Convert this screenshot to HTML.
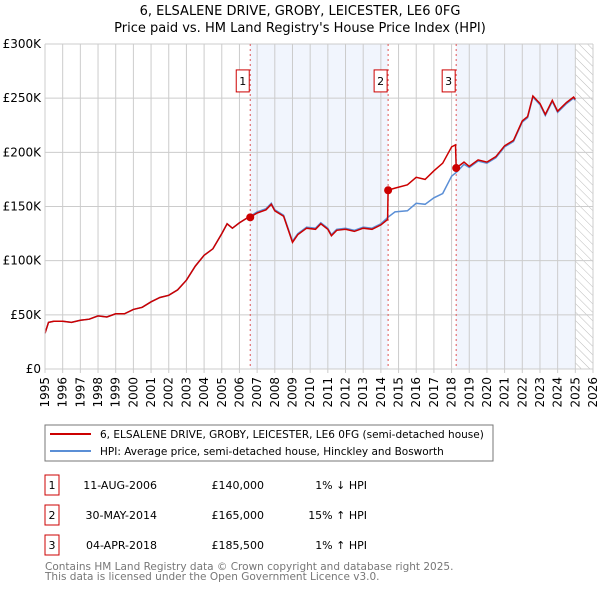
<!DOCTYPE html>
<html><head><meta charset="utf-8"><style>
body{margin:0;background:#fff;font-family:"Liberation Sans","DejaVu Sans",sans-serif;}
svg text{font-family:"DejaVu Sans","Liberation Sans",sans-serif;}
</style></head><body>
<svg id="c" width="600" height="590" xmlns="http://www.w3.org/2000/svg">
<defs><pattern id="hatch" width="6" height="6" patternUnits="userSpaceOnUse" patternTransform="rotate(-45)"><line x1="0" y1="0" x2="0" y2="6" stroke="#bbb" stroke-width="1"/></pattern></defs>
<text x="300" y="15" text-anchor="middle" font-size="13">6, ELSALENE DRIVE, GROBY, LEICESTER, LE6 0FG</text>
<text x="300" y="32" text-anchor="middle" font-size="13">Price paid vs. HM Land Registry's House Price Index (HPI)</text>
<g id="plot"></g>
<rect x="45" y="425" width="448" height="36" fill="#fff" stroke="#777"/>
<line x1="50" y1="434" x2="91" y2="434" stroke="#cc0000" stroke-width="2"/>
<text x="100" y="438" font-size="10.5">6, ELSALENE DRIVE, GROBY, LEICESTER, LE6 0FG (semi-detached house)</text>
<line x1="50" y1="451" x2="91" y2="451" stroke="#5b8fd6" stroke-width="2"/>
<text x="100" y="455" font-size="10.5">HPI: Average price, semi-detached house, Hinckley and Bosworth</text>
<g id="table" font-size="11"></g>
<text x="45" y="570" font-size="10.5" fill="#777">Contains HM Land Registry data © Crown copyright and database right 2025.</text>
<text x="45" y="580" font-size="10.5" fill="#777">This data is licensed under the Open Government Licence v3.0.</text>
</svg>
<script>
const hpiYears=[1995.0,1995.2,1995.5,1996,1996.5,1997,1997.5,1998,1998.5,1999,1999.5,2000,2000.5,2001,2001.5,2002,2002.5,2003,2003.5,2004,2004.5,2005,2005.3,2005.6,2006,2006.5,2006.6,2007,2007.5,2007.8,2008,2008.5,2009,2009.3,2009.8,2010.3,2010.6,2011,2011.2,2011.5,2012,2012.5,2013,2013.5,2014,2014.4,2014.8,2015.5,2016,2016.5,2017,2017.5,2018,2018.3,2018.7,2019,2019.5,2020,2020.5,2021,2021.5,2022,2022.3,2022.6,2023,2023.3,2023.7,2024,2024.5,2024.9,2025];
const hpiValues=[33,43,44,44,43,45,46,49,48,51,51,55,57,62,66,68,73,82,95,105,111,125,134,130,135,140,141,145,148,153,147,142,118,125,131,130,135,130,124,129,130,128,131,130,134,140,145,146,153,152,158,162,178,182,189,186,192,190,195,205,210,228,232,251,244,234,247,237,245,250,248];
const redYears=[1995.0,1995.2,1995.5,1996,1996.5,1997,1997.5,1998,1998.5,1999,1999.5,2000,2000.5,2001,2001.5,2002,2002.5,2003,2003.5,2004,2004.5,2005,2005.3,2005.6,2006,2006.5,2006.6,2007,2007.5,2007.8,2008,2008.5,2009,2009.3,2009.8,2010.3,2010.6,2011,2011.2,2011.5,2012,2012.5,2013,2013.5,2014,2014.38,2014.41,2014.8,2015.5,2016,2016.5,2017,2017.5,2018,2018.22,2018.26,2018.7,2019,2019.5,2020,2020.5,2021,2021.5,2022,2022.3,2022.6,2023,2023.3,2023.7,2024,2024.5,2024.9,2025];
const redValues=[33,43,44,44,43,45,46,49,48,51,51,55,57,62,66,68,73,82,95,105,111,125,134,130,135,140,140,144,147,152,146,141,117,124,130,129,134,129,123,128,129,127,130,129,133,138,165,167,170,177,175,183,190,205,207,185.5,191,187,193,191,196,206,211,229,233,252,245,235,248,238,246,251,249];
const saleYears=[2006.61,2014.41,2018.26];
const saleValues=[140,165,185.5];
const saleLabels=["1","2","3"];
const saleDates=["11-AUG-2006","30-MAY-2014","04-APR-2018"];
const salePrices=["£140,000","£165,000","£185,500"];
const saleDiffs=["1% ↓ HPI","15% ↑ HPI","1% ↑ HPI"];
const yTicks=[0,50,100,150,200,250,300];
const yTickLabels=["£0","£50K","£100K","£150K","£200K","£250K","£300K"];
const xTicks=[1995,1996,1997,1998,1999,2000,2001,2002,2003,2004,2005,2006,2007,2008,2009,2010,2011,2012,2013,2014,2015,2016,2017,2018,2019,2020,2021,2022,2023,2024,2025,2026];
const dataEnd=2025.0;

const NS="http://www.w3.org/2000/svg";
const X0=45,X1=593,Y0=369,Y1=44;
const xs=y=>X0+(y-1995)/(2026-1995)*(X1-X0);
const ys=v=>Y0-(v/300)*(Y0-Y1);
const g=document.getElementById('plot');
function mk(t,a,p){const e=document.createElementNS(NS,t);for(const k in a)e.setAttribute(k,a[k]);(p||g).appendChild(e);return e;}
let s1=mk('rect',{x:xs(saleYears[0]),y:Y1,width:xs(saleYears[1])-xs(saleYears[0]),height:Y0-Y1,fill:'#eef3fc',opacity:0.8});


let s2=mk('rect',{x:xs(saleYears[2]),y:Y1,width:xs(dataEnd)-xs(saleYears[2]),height:Y0-Y1,fill:'#eef3fc',opacity:0.8});


let hz=mk('rect',{x:xs(dataEnd),y:Y1,width:X1-xs(dataEnd),height:Y0-Y1,fill:'url(#hatch)'});


xTicks.forEach(t=>{
 const l=mk('line',{x1:xs(t),x2:xs(t),y1:Y1,y2:Y0+4,stroke:'#ccc'});
 
 
 const tx=mk('text',{x:0,y:0,'font-size':12,'text-anchor':'end',transform:`translate(${xs(t)+4},${Y0+8}) rotate(-90)`});
 tx.textContent=t;
 
 
});
yTicks.forEach((t,i)=>{
 const l=mk('line',{x1:X0,x2:X1,y1:ys(t),y2:ys(t),stroke:'#ccc'});
 
 
 const tx=mk('text',{x:X0-4,y:ys(t)+4,'font-size':12,'text-anchor':'end'});
 tx.textContent=yTickLabels[i];
 
 
});
saleYears.forEach((s,i)=>{
 const l=mk('line',{x1:xs(s),x2:xs(s),y1:Y1,y2:Y0,stroke:'#e05555','stroke-dasharray':'2,3'});
 
 
 const b=mk('rect',{x:xs(s)-14,y:ys(265)-12,width:13,height:22,fill:'#fff',stroke:'#cc0000'});
 
 
 const t=mk('text',{x:xs(s)-7.5,y:ys(265)+3,'font-size':11,'text-anchor':'middle'});
 t.textContent=saleLabels[i];
 
 
});
const pts=(a,b)=>a.map((y,i)=>xs(y).toFixed(1)+','+ys(b[i]).toFixed(1)).join(' ');
const hl=mk('polyline',{points:pts(hpiYears,hpiValues),fill:'none',stroke:'#5b8fd6','stroke-width':1.5});


const rl=mk('polyline',{points:pts(redYears,redValues),fill:'none',stroke:'#cc0000','stroke-width':1.5});


saleYears.forEach((s,i)=>{
 const c=mk('circle',{cx:xs(s),cy:ys(saleValues[i]),r:4,fill:'#cc0000'});
 
 
});
const ax=mk('line',{x1:X0,x2:X0,y1:Y1,y2:Y0,stroke:'#ccc'});


const tb=document.getElementById('table');
saleYears.forEach((s,i)=>{
 const y=483+i*30;
 const b=mk('rect',{x:45,y:y-8,width:14,height:20,fill:'#fff',stroke:'#cc0000'},tb);
 
 
 const cells=[[saleLabels[i],52,'middle'],[saleDates[i],157,'end'],[salePrices[i],264,'end'],[saleDiffs[i],367,'end']];
 cells.forEach(c=>{
  const t=mk('text',{x:c[1],y:y+6,'text-anchor':c[2]},tb);
  t.textContent=c[0];
  
  
 });
});
</script>
</body></html>
